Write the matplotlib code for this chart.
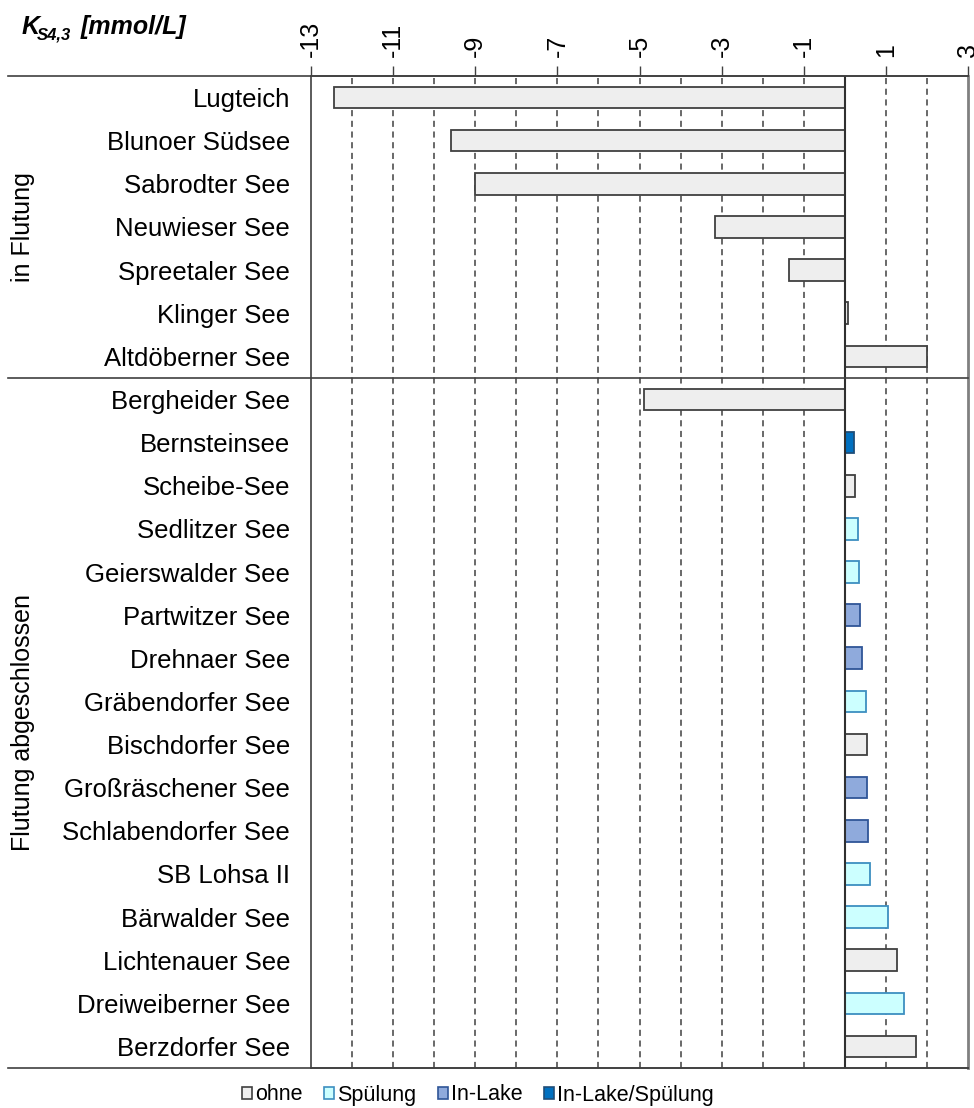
import matplotlib.pyplot as plt
import numpy as np
from matplotlib import ticker
from matplotlib.patches import Patch
from matplotlib.transforms import blended_transform_factory

plt.rcParams["font.family"] = ["Liberation Sans", "DejaVu Sans"]
plt.rcParams["axes.unicode_minus"] = False

# Lakes, top to bottom
lakes = [
    "Lugteich", "Blunoer Südsee", "Sabrodter See", "Neuwieser See",
    "Spreetaler See", "Klinger See", "Altdöberner See",
    "Bergheider See", "Bernsteinsee", "Scheibe-See", "Sedlitzer See",
    "Geierswalder See", "Partwitzer See", "Drehnaer See",
    "Gräbendorfer See", "Bischdorfer See", "Großräschener See",
    "Schlabendorfer See", "SB Lohsa II", "Bärwalder See",
    "Lichtenauer See", "Dreiweiberner See", "Berzdorfer See",
]
ks43 = [
    -12.45, -9.6, -9.0, -3.15, -1.37, 0.07, 2.0,
    -4.9, 0.22, 0.24, 0.32, 0.34, 0.37, 0.41, 0.52, 0.54, 0.54,
    0.57, 0.62, 1.04, 1.28, 1.44, 1.74,
]
treatment = [
    "ohne", "ohne", "ohne", "ohne", "ohne", "ohne", "ohne",
    "ohne", "In-Lake/Spülung", "ohne", "Spülung", "Spülung", "In-Lake",
    "In-Lake", "Spülung", "ohne", "In-Lake", "In-Lake", "Spülung",
    "Spülung", "ohne", "Spülung", "ohne",
]
groups = ["in Flutung", "Flutung abgeschlossen"]
group_sizes = [7, 16]

styles = {
    "ohne": ("#eeeeee", "#404040"),
    "Spülung": ("#ccffff", "#3d8fc0"),
    "In-Lake": ("#8faadc", "#2f5597"),
    "In-Lake/Spülung": ("#0070c0", "#1f4e79"),
}


def main() -> None:
    W, H = 974, 1108
    fig = plt.figure(figsize=(W / 100, H / 100), dpi=100)
    ax = fig.add_axes([311 / W, 1 - 1068 / H, 657 / W, 992 / H])

    y = np.arange(len(lakes))
    fills = [styles[t][0] for t in treatment]
    edges = [styles[t][1] for t in treatment]
    ax.barh(y, ks43, height=0.5, color=fills, edgecolor=edges, linewidth=1.3, zorder=3)

    ax.set_xlim(-13, 3)
    ax.set_ylim(len(lakes) - 0.5, -0.5)

    ax.set_yticks(y)
    ax.set_yticklabels(lakes, fontsize=18.5)
    ax.tick_params(axis="y", length=0, pad=15)

    ax.xaxis.tick_top()
    ax.xaxis.set_major_locator(ticker.MultipleLocator(2, offset=1))
    ax.xaxis.set_major_formatter(ticker.FormatStrFormatter("%d"))
    ax.tick_params(axis="x", direction="out", length=7, width=1, color="#404040",
                   labelsize=18, labelrotation=90, pad=7)

    # dashed grid at every integer, solid zero line
    for v in range(-12, 3):
        if v == 0:
            ax.axvline(0, color="#303030", linewidth=1.5, zorder=4)
        else:
            ax.axvline(v, color="#404040", linewidth=1.1, linestyle=(0, (4, 3)), zorder=1)

    for side in ["top", "left", "bottom"]:
        ax.spines[side].set_color("#404040")
        ax.spines[side].set_linewidth(1.2)
    ax.spines["right"].set_color("#808080")
    ax.spines["right"].set_linewidth(2)

    # horizontal rules reaching into the label area
    trans = blended_transform_factory(ax.transAxes, ax.transData)
    x0 = (8 - 311) / 657
    bounds = np.cumsum([0] + group_sizes) - 0.5
    for b in bounds:
        ax.plot([x0, 1], [b, b], transform=trans, color="#404040",
                linewidth=1.2, clip_on=False, zorder=5)

    # group labels
    for g, lo, hi in zip(groups, bounds[:-1], bounds[1:]):
        ax.text((23 - 311) / 657, (lo + hi) / 2, g, transform=trans, rotation=90,
                ha="center", va="center", fontsize=18)

    # unit label
    fig.text(22 / W, 1 - 34 / H, "K", fontsize=18, fontweight="bold",
             fontstyle="italic", ha="left", va="baseline")
    fig.text(37 / W, 1 - 39 / H, "S4,3", fontsize=12, fontweight="bold",
             fontstyle="italic", ha="left", va="baseline")
    fig.text(81 / W, 1 - 34 / H, "[mmol/L]", fontsize=18, fontweight="bold",
             fontstyle="italic", ha="left", va="baseline")

    handles = [Patch(facecolor=f, edgecolor=e, linewidth=1.2, label=k)
               for k, (f, e) in styles.items()]
    fig.legend(handles=handles, loc="center", bbox_to_anchor=(478 / W, 1 - 1095 / H),
               ncol=4, frameon=False, fontsize=15.5, handlelength=0.45,
               handleheight=0.45, handletextpad=0.15, columnspacing=1.0)

    fig.savefig("out.png", dpi=100)
    plt.close(fig)


if __name__ == "__main__":
    main()
